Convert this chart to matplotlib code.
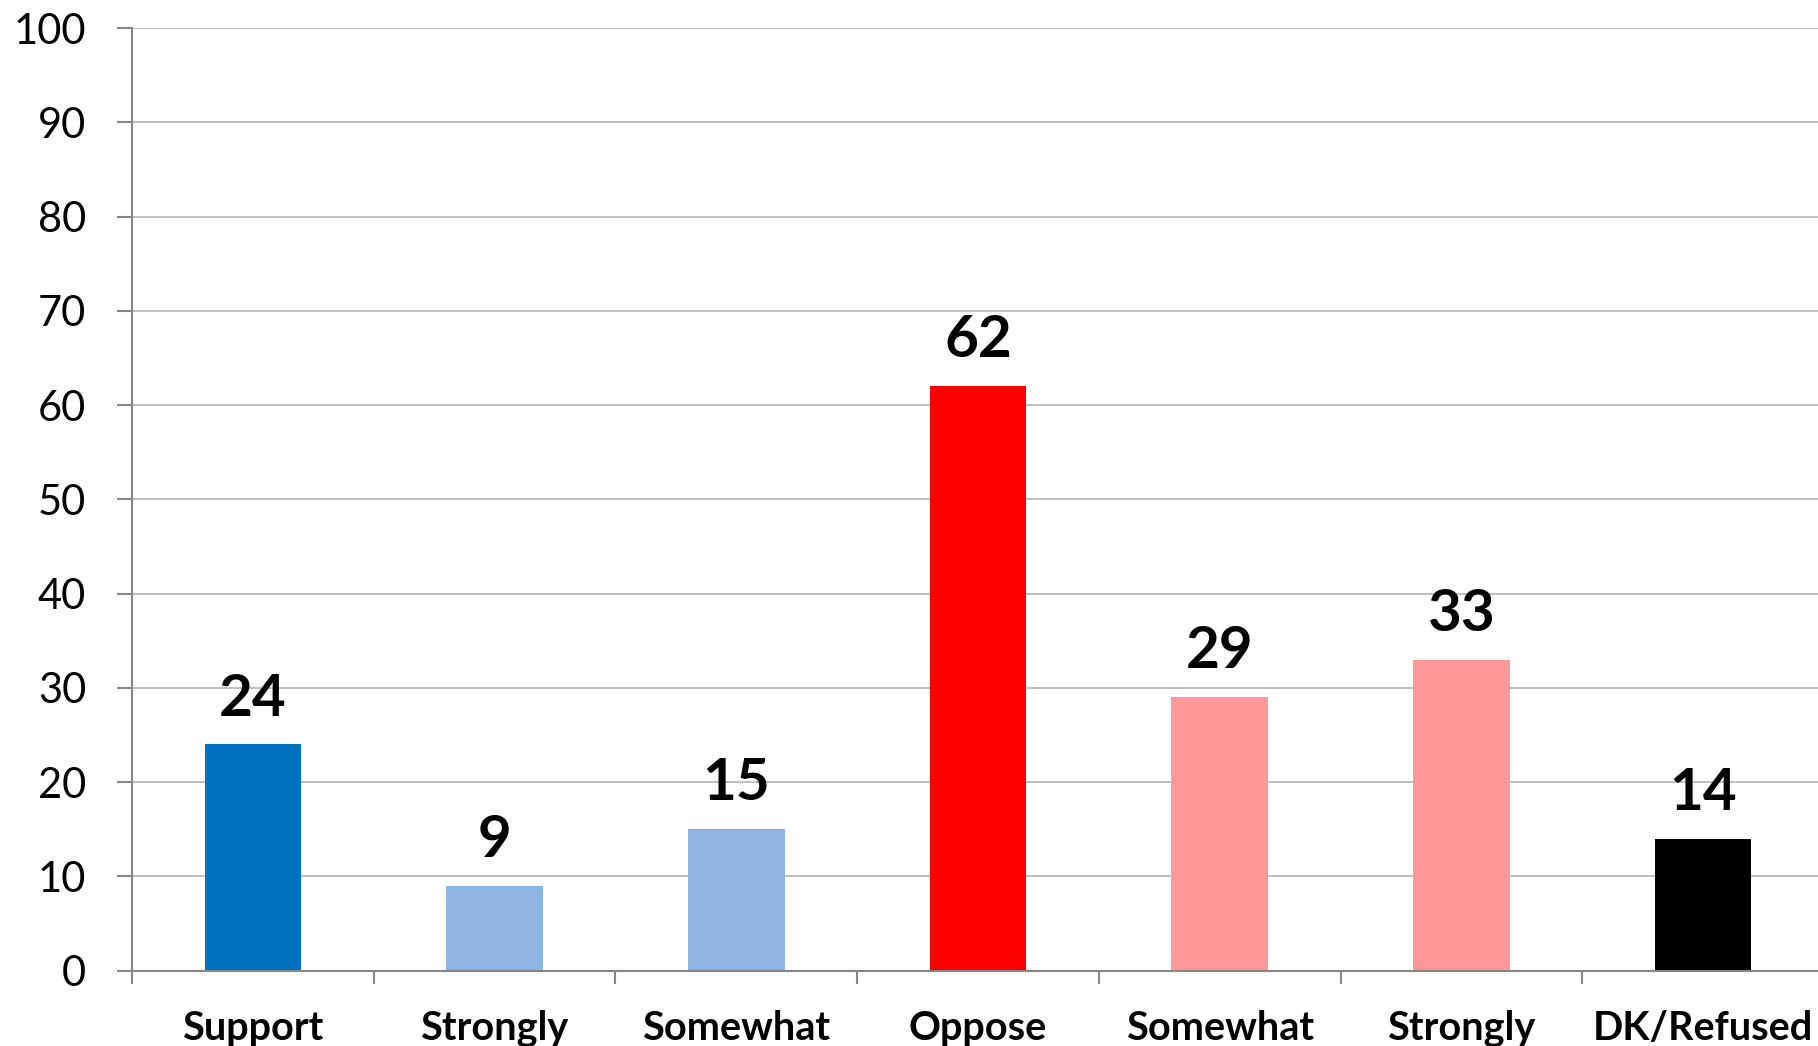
import numpy as np
import matplotlib.pyplot as plt
from matplotlib.ticker import FixedLocator

plt.rcParams['font.family'] = ['Lato', 'DejaVu Sans']

categories = ['Support', 'Strongly', 'Somewhat', 'Oppose', 'Somewhat', 'Strongly', 'DK/Refused']
values = [24, 9, 15, 62, 29, 33, 14]
colors = ['#0070C0', '#8EB4E3', '#8EB4E3', '#FF0000', '#FF9999', '#FF9999', '#000000']
yticks = list(range(0, 101, 10))

fig = plt.figure(figsize=(18.18, 10.46), dpi=100)
ax = fig.add_axes([0.0726, 0.072, 0.9307, 0.9012])

x = np.arange(len(categories))
bars = ax.bar(x, values, width=0.4, color=colors, zorder=3)

# value labels sit just above each bar
for b, v in zip(bars, values):
    ax.text(b.get_x() + b.get_width() / 2, v + 2.0, str(v),
            ha='center', va='bottom', fontsize=42, fontweight='bold', color='black')

ax.set_xlim(-0.5, len(categories) - 0.5)
ax.set_ylim(0, 100)
ax.set_yticks(yticks)
ax.set_yticklabels([str(t) for t in yticks], fontsize=30)
ax.set_xticks(x)
ax.set_xticklabels(categories, fontsize=28.5, fontweight='bold')
ax.xaxis.set_minor_locator(FixedLocator(np.arange(-0.5, len(categories), 1.0)))

ax.tick_params(axis='x', which='major', length=0, pad=28)
ax.tick_params(axis='x', which='minor', length=9.5, width=1.5, color='#868686', direction='out')
ax.tick_params(axis='y', length=11, width=1.5, color='#868686', pad=22)

ax.grid(axis='y', color='#C0C0C0', linewidth=1.4, zorder=0)
ax.set_axisbelow(True)
for s in ['top', 'right']:
    ax.spines[s].set_visible(False)
for s in ['left', 'bottom']:
    ax.spines[s].set_color('#868686')
    ax.spines[s].set_linewidth(1.5)
    ax.spines[s].set_zorder(4)

fig.savefig('out.png', dpi=100)
